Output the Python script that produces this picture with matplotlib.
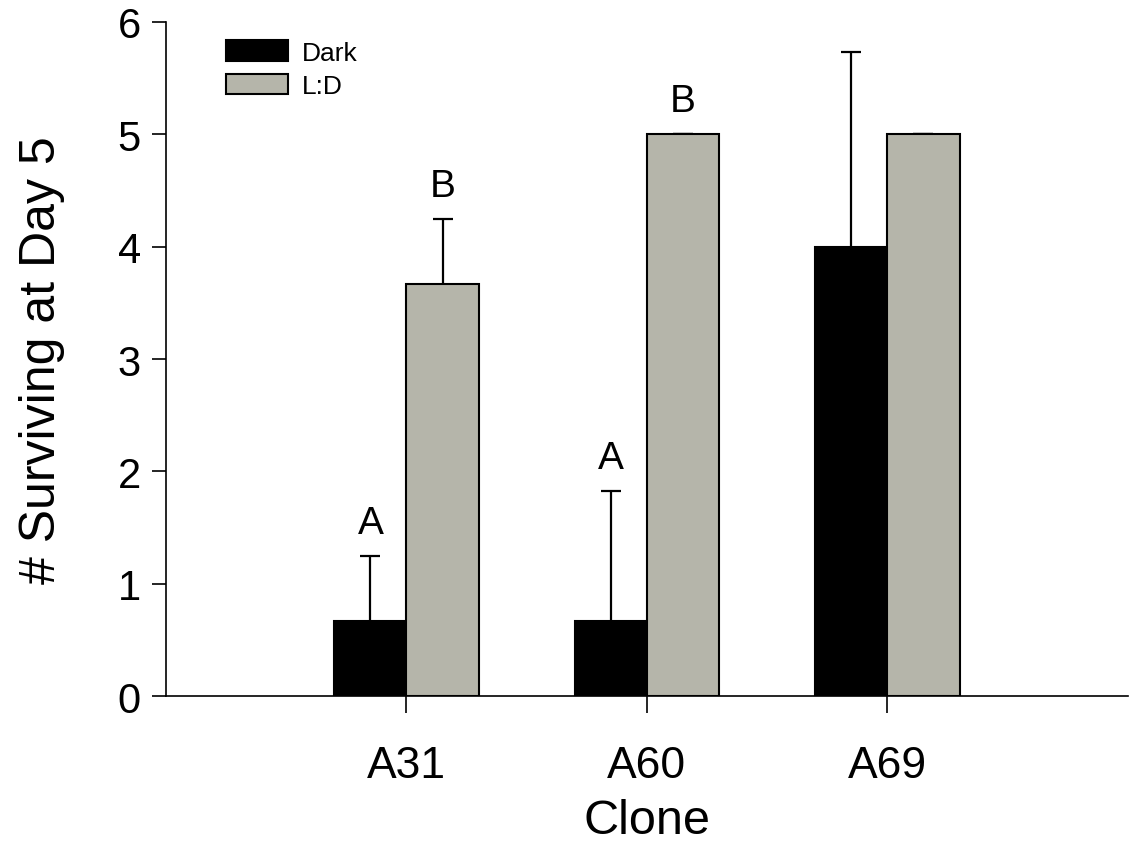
import numpy as np
import matplotlib
matplotlib.use("Agg")
import matplotlib.pyplot as plt

plt.rcParams['font.family'] = ['Liberation Sans', 'DejaVu Sans']

# data
clones = ["A31", "A60", "A69"]
dark_mean = [0.667, 0.667, 4.0]
dark_err = [0.577, 1.155, 1.732]
ld_mean = [3.667, 5.0, 5.0]
ld_err = [0.577, 0.0, 0.0]
dark_letters = ["A", "A", ""]
ld_letters = ["B", "B", ""]

gray = "#b5b5aa"
w = 0.3
x = np.arange(1, len(clones) + 1)

fig = plt.figure(figsize=(11.33, 8.45), dpi=100)
ax = fig.add_axes([0.1465, 0.1751, 0.849, 0.7977])

# error bars behind bars so only the upper half shows
ax.errorbar(x - w / 2, dark_mean, yerr=dark_err, fmt='none', ecolor='black',
            elinewidth=1.6, capsize=7.5, capthick=1.6, zorder=1)
ax.errorbar(x + w / 2, ld_mean, yerr=ld_err, fmt='none', ecolor='black',
            elinewidth=1.6, capsize=7.5, capthick=1.6, zorder=1)
ax.bar(x - w / 2, dark_mean, w, color='black', edgecolor='black',
       linewidth=1.5, label='Dark', zorder=2)
ax.bar(x + w / 2, ld_mean, w, color=gray, edgecolor='black',
       linewidth=1.5, label='L:D', zorder=2)

for xi, m, e, t in zip(x - w / 2, dark_mean, dark_err, dark_letters):
    if t:
        ax.annotate(t, (xi, m + e), xytext=(0, 11), textcoords='offset points',
                    ha='center', va='bottom', fontsize=28)
for xi, m, e, t in zip(x + w / 2, ld_mean, ld_err, ld_letters):
    if t:
        ax.annotate(t, (xi, m + e), xytext=(0, 11), textcoords='offset points',
                    ha='center', va='bottom', fontsize=28)

ax.set_xlim(0, 4)
ax.set_ylim(0, 6)
ax.set_xticks(x)
ax.set_xticklabels(clones, fontsize=32)
ax.set_yticks(range(0, 7))
ax.tick_params(axis='y', labelsize=30, length=10, width=1.2, pad=8)
ax.tick_params(axis='x', length=12, width=1.2, pad=23)
for s in ['top', 'right']:
    ax.spines[s].set_visible(False)
for s in ['left', 'bottom']:
    ax.spines[s].set_linewidth(1.2)

ax.set_xlabel("Clone", fontsize=35, labelpad=9)
ax.set_ylabel("# Surviving at Day 5", fontsize=36, labelpad=38)

ax.legend(loc='upper left', bbox_to_anchor=(0.043, 1.0), frameon=False,
          fontsize=19, handlelength=2.35, handleheight=0.8, labelspacing=0.35,
          handletextpad=0.55, borderaxespad=0.3)

fig.savefig("out.png", dpi=100)
